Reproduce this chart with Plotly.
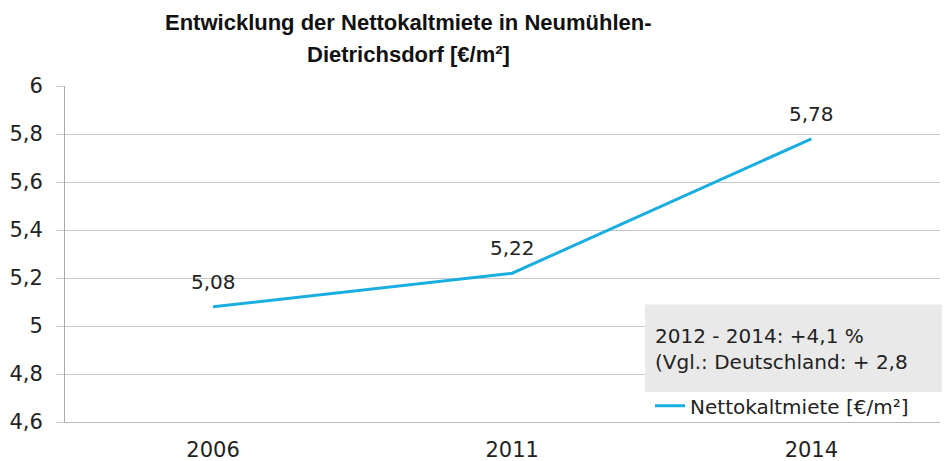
import plotly.graph_objects as go

years = ["2006", "2011", "2014"]
rent = [5.08, 5.22, 5.78]
rent_labels = ["5,08", "5,22", "5,78"]
y_ticks = [4.6, 4.8, 5.0, 5.2, 5.4, 5.6, 5.8, 6.0]
y_tick_labels = ["4,6", "4,8", "5", "5,2", "5,4", "5,6", "5,8", "6"]
series_name = "Nettokaltmiete [€/m²]"
title_lines = ["Entwicklung der Nettokaltmiete in Neumühlen-", "Dietrichsdorf [€/m²]"]
note_lines = ["2012 - 2014: +4,1 %", "(Vgl.: Deutschland: + 2,8"]

FONT = "DejaVu Sans, sans-serif"
TFONT = "Liberation Sans, Arial, sans-serif"
TXT = "#222222"

fig = go.Figure()
fig.add_trace(go.Scatter(
    x=years, y=rent, mode="lines", name=series_name,
    line=dict(color="#1AAEE0", width=3),
))

# data labels above the points (category index positions)
for i, (yv, lab) in enumerate(zip(rent, rent_labels)):
    fig.add_annotation(x=i, y=yv, xref="x", yref="y", text=lab, showarrow=False,
                       xanchor="center", yanchor="middle",
                       yshift=25, font=dict(size=20, color=TXT, family=FONT))

# title (two lines)
for yy, line in zip([1.190, 1.095], title_lines):
    fig.add_annotation(xref="paper", yref="paper", x=0.393, y=yy, xanchor="center", yanchor="middle",
                       text="<b>" + line + "</b>", showarrow=False,
                       font=dict(size=22, color="#111111", family=TFONT))

# gray note box
fig.add_shape(type="rect", xref="paper", yref="paper", x0=0.663, x1=1.02, y0=0.089, y1=0.35,
              fillcolor="#E9E9E9", line=dict(width=0), layer="above")
fig.add_annotation(xref="paper", yref="paper", x=0.672, y=0.217, xanchor="left", yanchor="middle",
                   text="<br>".join(note_lines), align="left", showarrow=False,
                   font=dict(size=20, color=TXT, family=FONT))

fig.update_layout(
    width=942, height=453,
    margin=dict(l=57, r=10, t=78, b=39, autoexpand=False),
    paper_bgcolor="white", plot_bgcolor="white",
    showlegend=True,
    legend=dict(x=0.6686, y=0.048, xanchor="left", yanchor="middle", bgcolor="rgba(0,0,0,0)",
                font=dict(size=20, color=TXT, family=FONT)),
    xaxis=dict(type="category", range=[-0.495, 2.43], showgrid=False, automargin=False,
               showline=True, linecolor="#BBBBBB", linewidth=1, ticks="",
               ticklabelstandoff=9,
               tickfont=dict(size=21, color=TXT, family=FONT)),
    yaxis=dict(range=[4.6, 6.0], tickvals=y_ticks, ticktext=y_tick_labels, automargin=False,
               showgrid=True, gridcolor="#C8C8C8", gridwidth=1,
               showline=True, linecolor="#AAAAAA", linewidth=1,
               ticks="outside", ticklen=8, tickcolor="#C8C8C8",
               ticklabelstandoff=9, zeroline=False,
               tickfont=dict(size=21, color=TXT, family=FONT)),
)
fig.write_html("out.html")
